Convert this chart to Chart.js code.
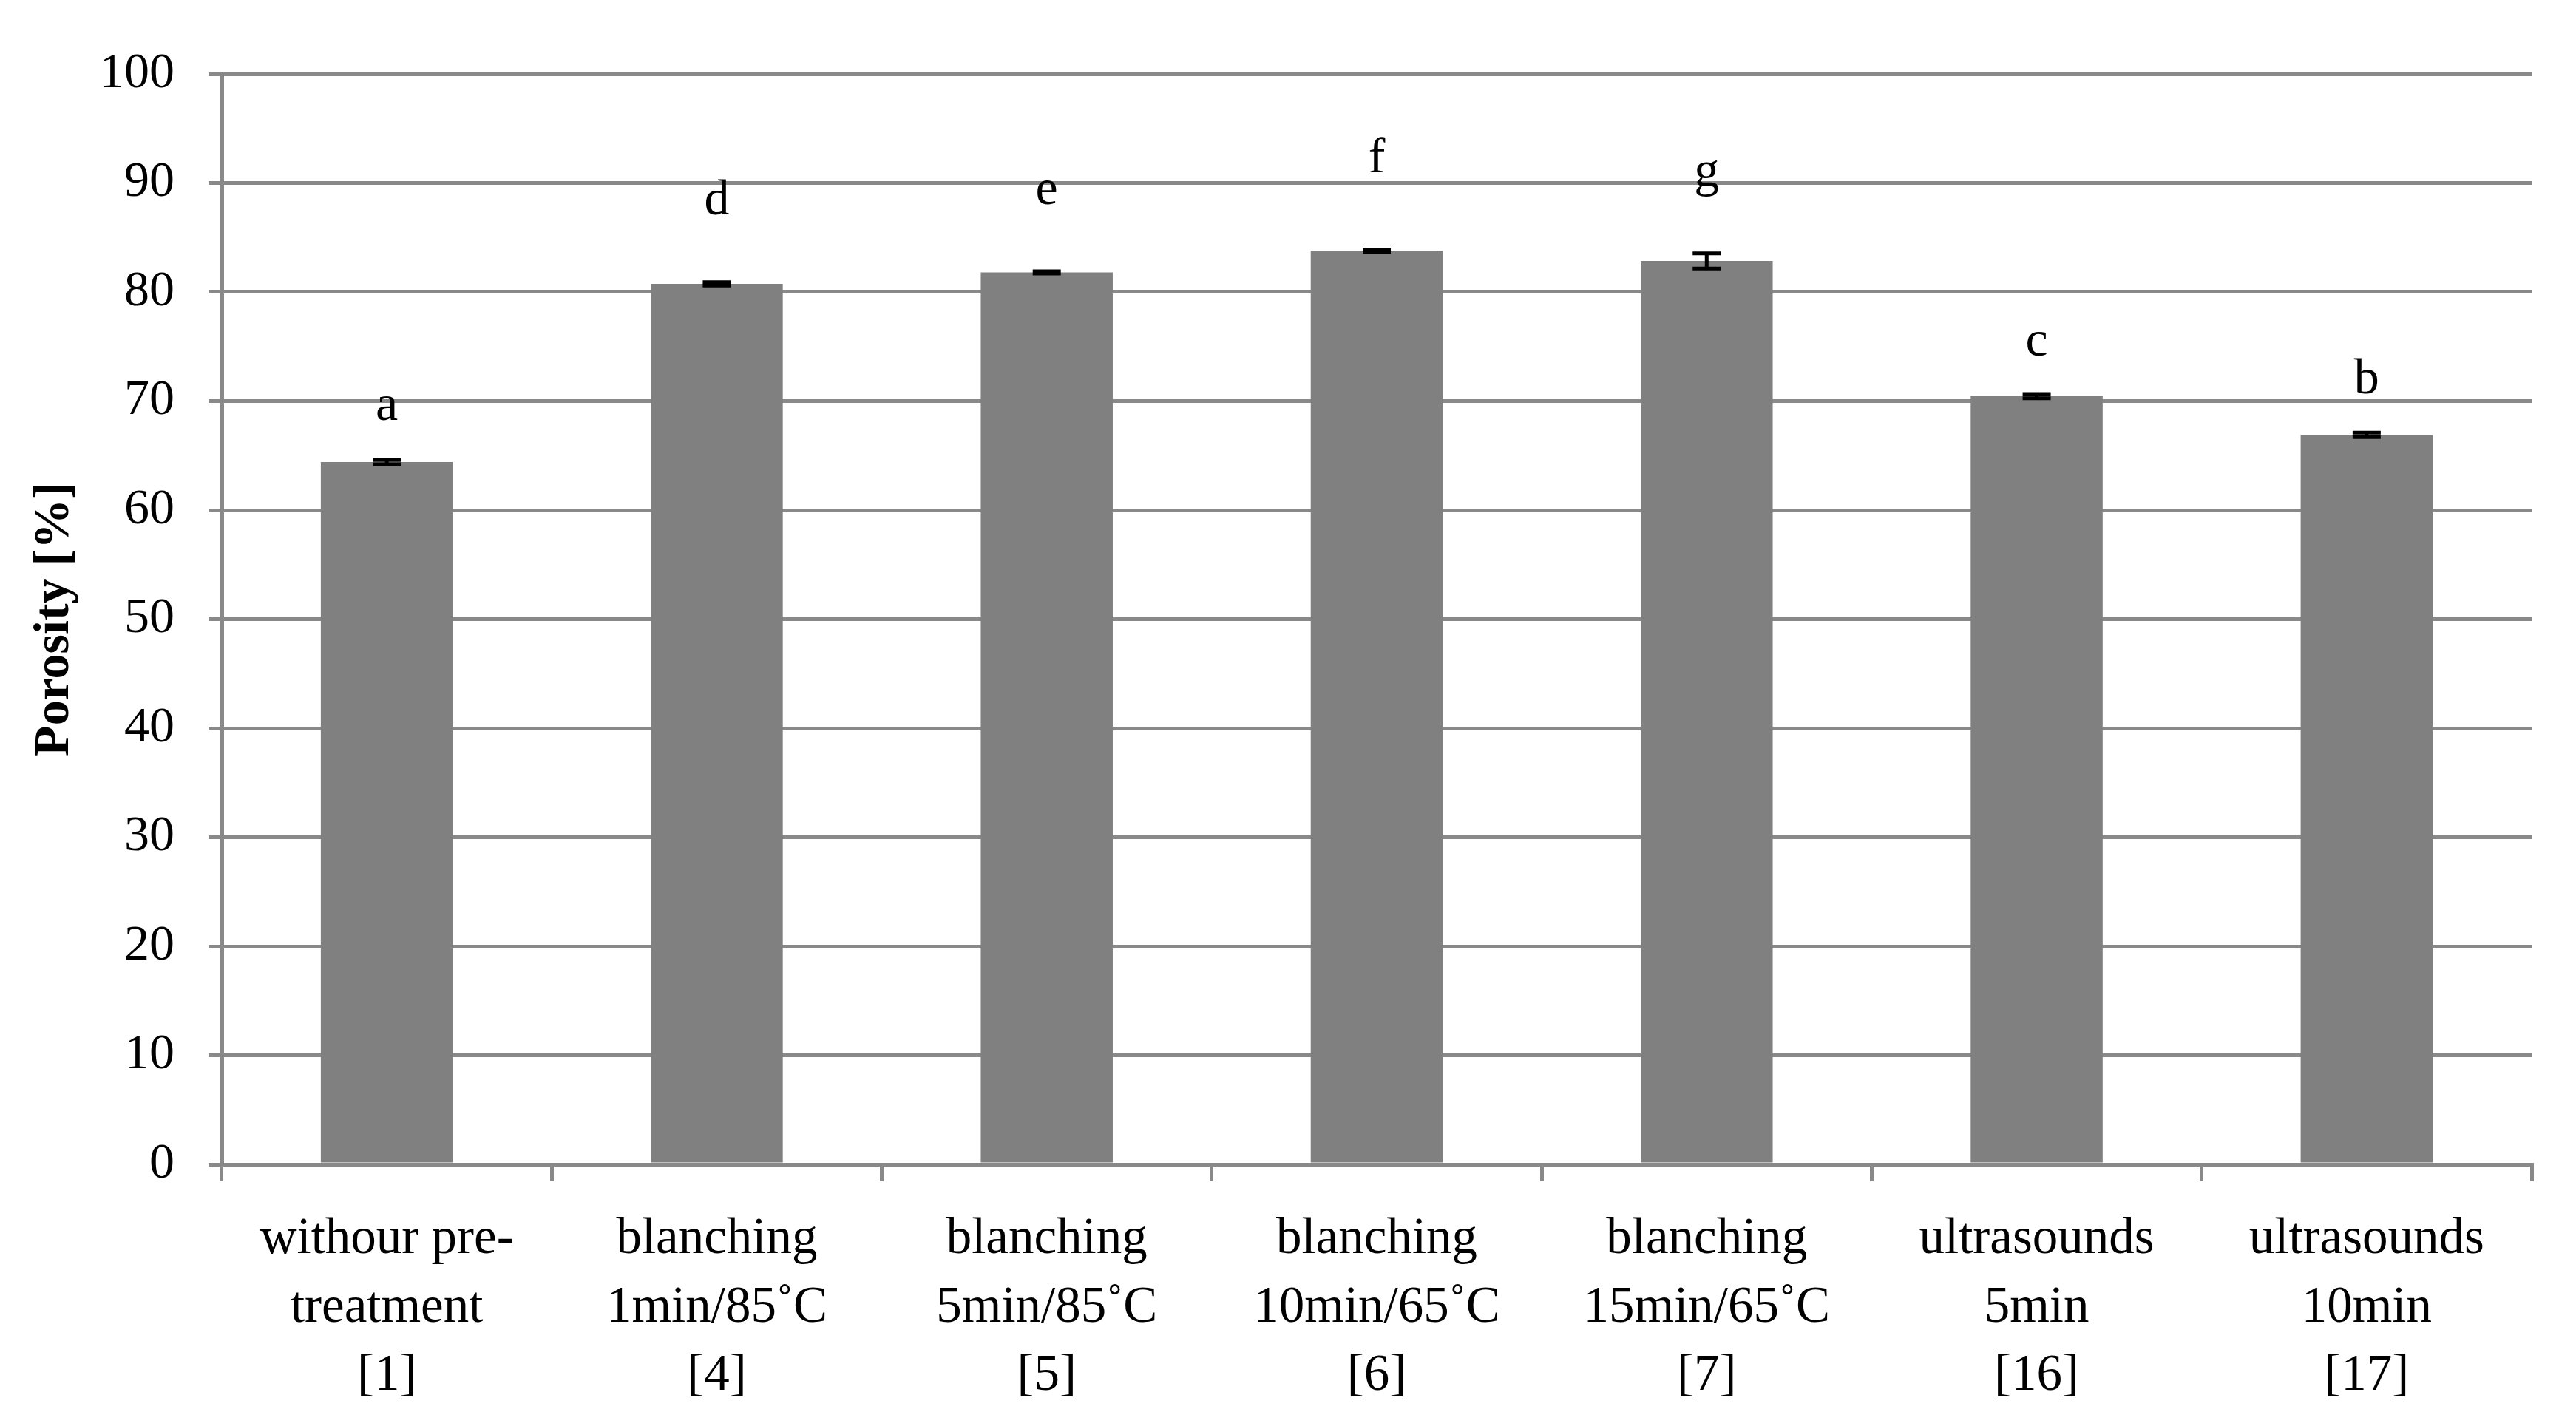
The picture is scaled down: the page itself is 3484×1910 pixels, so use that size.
<!DOCTYPE html>
<html lang="en">
    <head>
        <meta charset="UTF-8" />
        <title>Porosity</title>
        <script src="https://cdn.jsdelivr.net/npm/chart.js"></script>
        <style>
            html, body {
                margin: 0;
                padding: 0;
                background: #fff;
            }
            #wrap {
                width: 3484px;
                height: 1910px;
            }
        </style>
    </head>
    <body>
        <div id="wrap"><canvas id="porosityChart"></canvas></div>

        <script>
            // categories (multi-line labels)
            const categories = [
                ["withour pre-", "treatment", "[1]"],
                ["blanching", "1min/85˚C", "[4]"],
                ["blanching", "5min/85˚C", "[5]"],
                ["blanching", "10min/65˚C", "[6]"],
                ["blanching", "15min/65˚C", "[7]"],
                ["ultrasounds", "5min", "[16]"],
                ["ultrasounds", "10min", "[17]"],
            ]
            const porosity = [64.4, 80.75, 81.8, 83.8, 82.85, 70.45, 66.9]
            const errors = [0.2, 0.15, 0.1, 0.1, 0.7, 0.2, 0.2]
            const letters = ["a", "d", "e", "f", "g", "c", "b"]
            // where each letter's baseline sits, in axis units
            const letterAt = [68.3, 87.1, 88.1, 91.0, 89.7, 74.2, 70.7]
            const yTicks = [0, 10, 20, 30, 40, 50, 60, 70, 80, 90, 100]

            const FONT = "'Liberation Serif', 'Times New Roman', serif"
            const GRID = "#898989"

            // error bars + group letters
            const extras = {
                id: "extras",
                afterDatasetsDraw(chart) {
                    const ctx = chart.ctx
                    const meta = chart.getDatasetMeta(0)
                    const y = chart.scales.y
                    ctx.save()
                    ctx.strokeStyle = "#000"
                    ctx.lineWidth = 5
                    meta.data.forEach((bar, i) => {
                        const x = bar.x
                        const hi = y.getPixelForValue(porosity[i] + errors[i])
                        const lo = y.getPixelForValue(porosity[i] - errors[i])
                        ctx.beginPath()
                        ctx.moveTo(x, hi)
                        ctx.lineTo(x, lo)
                        ctx.moveTo(x - 19, hi)
                        ctx.lineTo(x + 19, hi)
                        ctx.moveTo(x - 19, lo)
                        ctx.lineTo(x + 19, lo)
                        ctx.stroke()
                    })
                    ctx.fillStyle = "#000"
                    ctx.font = "68px " + FONT
                    ctx.textAlign = "center"
                    ctx.textBaseline = "alphabetic"
                    meta.data.forEach((bar, i) => {
                        ctx.fillText(letters[i], bar.x, y.getPixelForValue(letterAt[i]))
                    })
                    ctx.restore()
                },
            }

            new Chart(document.getElementById("porosityChart"), {
                type: "bar",
                data: {
                    labels: categories,
                    datasets: [
                        {
                            data: porosity,
                            backgroundColor: "#808080",
                            borderWidth: 0,
                            categoryPercentage: 1,
                            barPercentage: 0.4,
                        },
                    ],
                },
                options: {
                    responsive: true,
                    maintainAspectRatio: false,
                    animation: false,
                    layout: { padding: { top: 100, right: 60, left: 0, bottom: 0 } },
                    plugins: {
                        legend: { display: false },
                        tooltip: { enabled: false },
                    },
                    scales: {
                        x: {
                            grid: {
                                offset: true,
                                drawOnChartArea: false,
                                drawTicks: true,
                                tickLength: 23,
                                color: GRID,
                                lineWidth: 5,
                            },
                            border: { color: GRID, width: 5 },
                            ticks: {
                                color: "#000",
                                font: { family: FONT, size: 69, lineHeight: 1.34 },
                                padding: 33,
                                maxRotation: 0,
                                autoSkip: false,
                            },
                            afterFit(scale) {
                                scale.height = 335
                            },
                        },
                        y: {
                            min: 0,
                            max: 100,
                            afterBuildTicks(scale) {
                                scale.ticks = yTicks.map((v) => ({ value: v }))
                            },
                            grid: {
                                color: GRID,
                                lineWidth: 5,
                                tickLength: 18,
                            },
                            border: { color: GRID, width: 5 },
                            ticks: {
                                color: "#000",
                                font: { family: FONT, size: 68 },
                                padding: 46,
                            },
                            title: {
                                display: true,
                                text: "Porosity [%]",
                                color: "#000",
                                font: { family: FONT, size: 68, weight: "bold" },
                                padding: { top: 34, bottom: 0 },
                            },
                            afterFit(scale) {
                                scale.width = 300
                            },
                        },
                    },
                },
                plugins: [extras],
            })
        </script>
    </body>
</html>
